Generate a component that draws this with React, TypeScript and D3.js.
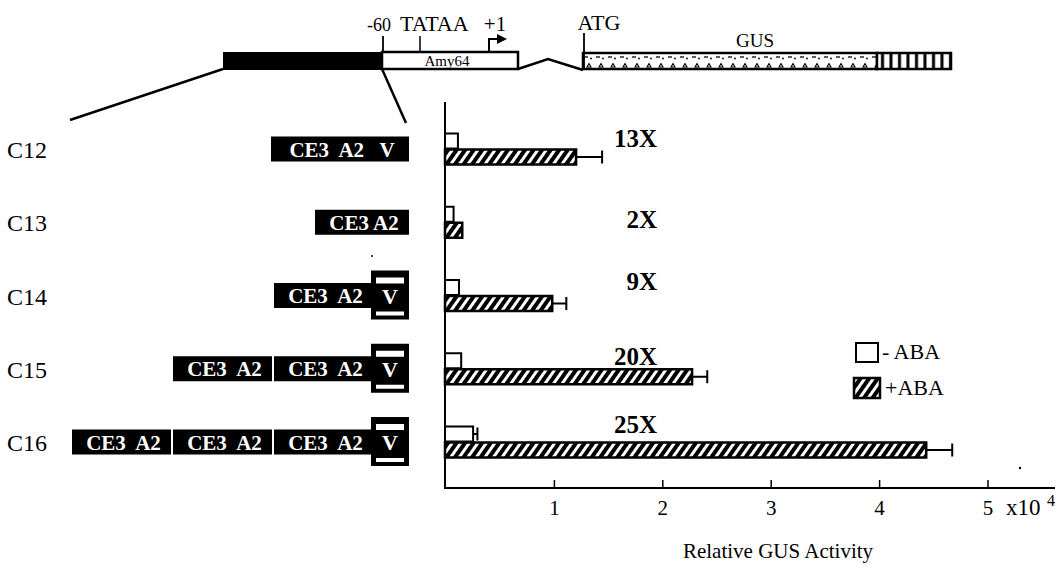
import React from "react";
import * as d3 from "d3";

// ---- data ----
const constructs = ["C12", "C13", "C14", "C15", "C16"];
const minusABA = [0.11, 0.07, 0.12, 0.14, 0.25];
const minusErr: (number | null)[] = [null, null, null, null, 0.29];
const plusABA = [1.2, 0.15, 0.98, 2.27, 4.43];
const plusErr: (number | null)[] = [1.44, null, 1.11, 2.41, 4.67];
const foldLabels = ["13X", "2X", "9X", "20X", "25X"];
const xTicks = [1, 2, 3, 4, 5];
const constructParts = [
  ["CE3  A2   V"],
  ["CE3 A2"],
  ["CE3  A2", "V*"],
  ["CE3  A2", "CE3  A2", "V*"],
  ["CE3  A2", "CE3  A2", "CE3  A2", "V*"],
];
const legendItems = ["- ABA", "+ABA"];

const FONT = "'Liberation Serif', 'Times New Roman', serif";
// vertical offsets of the fold labels relative to the row centre (layout only)
const foldDy = [-2, 6, -5.5, -4, -9];

export default function App() {
  const W = 1060, H = 569;
  const x = d3.scaleLinear().domain([0, 5]).range([446, 988]);
  const y = d3.scalePoint<string>().domain(constructs).range([149, 442]);
  const barH = 15;
  const axisX = 445, axisBottom = 488, axisTop = 102;

  const rightEdge = 409;
  const partWidth = (p: string, n: number) =>
    p === "V*" ? 38 : p.length > 8 ? 138 : n === 1 ? 94 : 99;

  return (
    <svg width={W} height={H} style={{ position: "absolute", left: 0, top: 0, background: "#fff" }} fontFamily={FONT}>
      <defs>
        <pattern id="hatch" patternUnits="userSpaceOnUse" width="7" height="7" patternTransform="rotate(35)">
          <rect width="7" height="7" fill="#000" />
          <rect x="0" width="3" height="7" fill="#fff" />
        </pattern>
        <pattern id="gusdots" patternUnits="userSpaceOnUse" x="583" y="52" width="12" height="18">
          <rect width="12" height="18" fill="#fff" />
          <line x1="1" y1="5" x2="5" y2="5" stroke="#000" strokeWidth="1.3" />
          <circle cx="8" cy="6.5" r="0.9" fill="#000" />
          <path d="M4,15 L6,11.5 L8,15 Z" fill="none" stroke="#000" strokeWidth="1.1" />
        </pattern>
        <pattern id="vstripes" patternUnits="userSpaceOnUse" x="877" y="52" width="8.5" height="18">
          <rect width="8.5" height="18" fill="#fff" />
          <rect x="4" width="3" height="18" fill="#000" />
        </pattern>
      </defs>

      {/* ---- top schematic ---- */}
      <g>
        <rect x={223} y={52} width={159} height={18} fill="#000" />
        <rect x={382} y={52} width={136} height={17} fill="#fff" stroke="#000" strokeWidth={2.5} />
        <text x={447} y={66} fontSize={15} textAnchor="middle">Amy64</text>
        <polyline points="518,69 548,59 583,70" fill="none" stroke="#000" strokeWidth={2.5} />
        <rect x={583} y={53} width={294} height={16} fill="url(#gusdots)" stroke="#000" strokeWidth={2.5} />
        <rect x={877} y={53} width={74} height={16} fill="url(#vstripes)" stroke="#000" strokeWidth={2.5} />
        <text x={755} y={47} fontSize={19} textAnchor="middle">GUS</text>
        <line x1={383} y1={36} x2={383} y2={52} stroke="#000" strokeWidth={1.8} />
        <line x1={420} y1={36} x2={420} y2={52} stroke="#000" strokeWidth={1.5} />
        <line x1={584} y1={33} x2={584} y2={70} stroke="#000" strokeWidth={1.8} />
        <polyline points="489,52 489,39 499,39" fill="none" stroke="#000" strokeWidth={2} />
        <path d="M497,34 L507,39 L497,44 Z" fill="#000" />
        <text x={379} y={31} fontSize={18} textAnchor="middle">-60</text>
        <text x={400} y={31} fontSize={22}>TATAA</text>
        <text x={495} y={31} fontSize={21} textAnchor="middle">+1</text>
        <text x={599} y={30} fontSize={22} textAnchor="middle">ATG</text>
        <line x1={223} y1={69} x2={70} y2={120} stroke="#000" strokeWidth={2.5} />
        <line x1={382} y1={69} x2={406} y2={123} stroke="#000" strokeWidth={2.5} />
      </g>

      {/* ---- row labels and constructs ---- */}
      {constructs.map((c, i) => {
        const cy = y(c)!;
        const parts = constructParts[i];
        let xr = rightEdge;
        const els: React.ReactNode[] = [];
        for (let k = parts.length - 1; k >= 0; k--) {
          const p = parts[k];
          const w = partWidth(p, parts.length);
          const x0 = xr - w;
          if (p === "V*") {
            els.push(
              <g key={k}>
                <rect x={x0} y={cy - 25} width={w} height={49} fill="#000" />
                <rect x={x0 + 5} y={cy - 18} width={w - 10} height={6} fill="#fff" />
                <rect x={x0 + 5} y={cy + 16} width={w - 10} height={4} fill="#fff" />
                <text x={x0 + w / 2} y={cy + 8} fontSize={22} fontWeight="bold" fill="#fff" textAnchor="middle">V</text>
              </g>
            );
            xr = x0 + 2;
          } else {
            els.push(
              <g key={k}>
                <rect x={x0} y={cy - 12.5} width={w} height={25} fill="#000" />
                <text x={x0 + w / 2 + 2} y={cy + 7.5} fontSize={21} fontWeight="bold" fill="#fff" textAnchor="middle" style={{ whiteSpace: "pre" }}>{p}</text>
              </g>
            );
            xr = x0 - 2;
          }
        }
        return (
          <g key={c}>
            <text x={7} y={cy + 9} fontSize={24}>{c}</text>
            {els}
          </g>
        );
      })}

      {/* ---- axes ---- */}
      <line x1={axisX} y1={axisTop} x2={axisX} y2={axisBottom + 1} stroke="#000" strokeWidth={2} />
      <line x1={axisX - 1} y1={axisBottom} x2={1055} y2={axisBottom} stroke="#000" strokeWidth={2} />
      {xTicks.map((t) => (
        <g key={t}>
          <line x1={x(t)} x2={x(t)} y1={axisBottom} y2={axisBottom - 8} stroke="#000" strokeWidth={1.5} />
          <text x={x(t)} y={515} fontSize={21} textAnchor="middle">{t}</text>
        </g>
      ))}
      <text x={1006} y={515} fontSize={23}>x10</text>
      <text x={1047} y={506} fontSize={16}>4</text>
      <text x={778} y={558} fontSize={21} textAnchor="middle">Relative GUS Activity</text>

      {/* ---- bars ---- */}
      {constructs.map((c, i) => {
        const cy = y(c)!;
        const pe = plusErr[i];
        const me = minusErr[i];
        return (
          <g key={c}>
            {pe != null && (
              <g>
                <line x1={x(plusABA[i])} x2={x(pe)} y1={cy + 8} y2={cy + 8} stroke="#000" strokeWidth={2} />
                <line x1={x(pe)} x2={x(pe)} y1={cy + 1.5} y2={cy + 14.5} stroke="#000" strokeWidth={2} />
              </g>
            )}
            {me != null && (
              <g>
                <line x1={x(minusABA[i])} x2={x(me)} y1={cy - 8} y2={cy - 8} stroke="#000" strokeWidth={2} />
                <line x1={x(me)} x2={x(me)} y1={cy - 14.5} y2={cy - 1.5} stroke="#000" strokeWidth={2} />
              </g>
            )}
            <rect x={axisX} y={cy - barH - 0.5} width={x(minusABA[i]) - axisX} height={barH} fill="#fff" stroke="#000" strokeWidth={2} />
            <rect x={axisX} y={cy + 0.5} width={x(plusABA[i]) - axisX} height={barH} fill="url(#hatch)" stroke="#000" strokeWidth={2.5} />
            <text x={657} y={cy + foldDy[i]} fontSize={25} fontWeight="bold" textAnchor="end">{foldLabels[i]}</text>
          </g>
        );
      })}

      {/* ---- legend ---- */}
      <rect x={856} y={343} width={22} height={19} fill="#fff" stroke="#000" strokeWidth={2} />
      <text x={882} y={359} fontSize={22}>{legendItems[0]}</text>
      <rect x={854} y={378} width={26} height={20} fill="url(#hatch)" stroke="#000" strokeWidth={2.5} />
      <text x={885} y={395} fontSize={22}>{legendItems[1]}</text>

      {/* scan specks */}
      <circle cx={372} cy={256} r={1} fill="#000" />
      <circle cx={1020} cy={468} r={1.2} fill="#000" />
    </svg>
  );
}
